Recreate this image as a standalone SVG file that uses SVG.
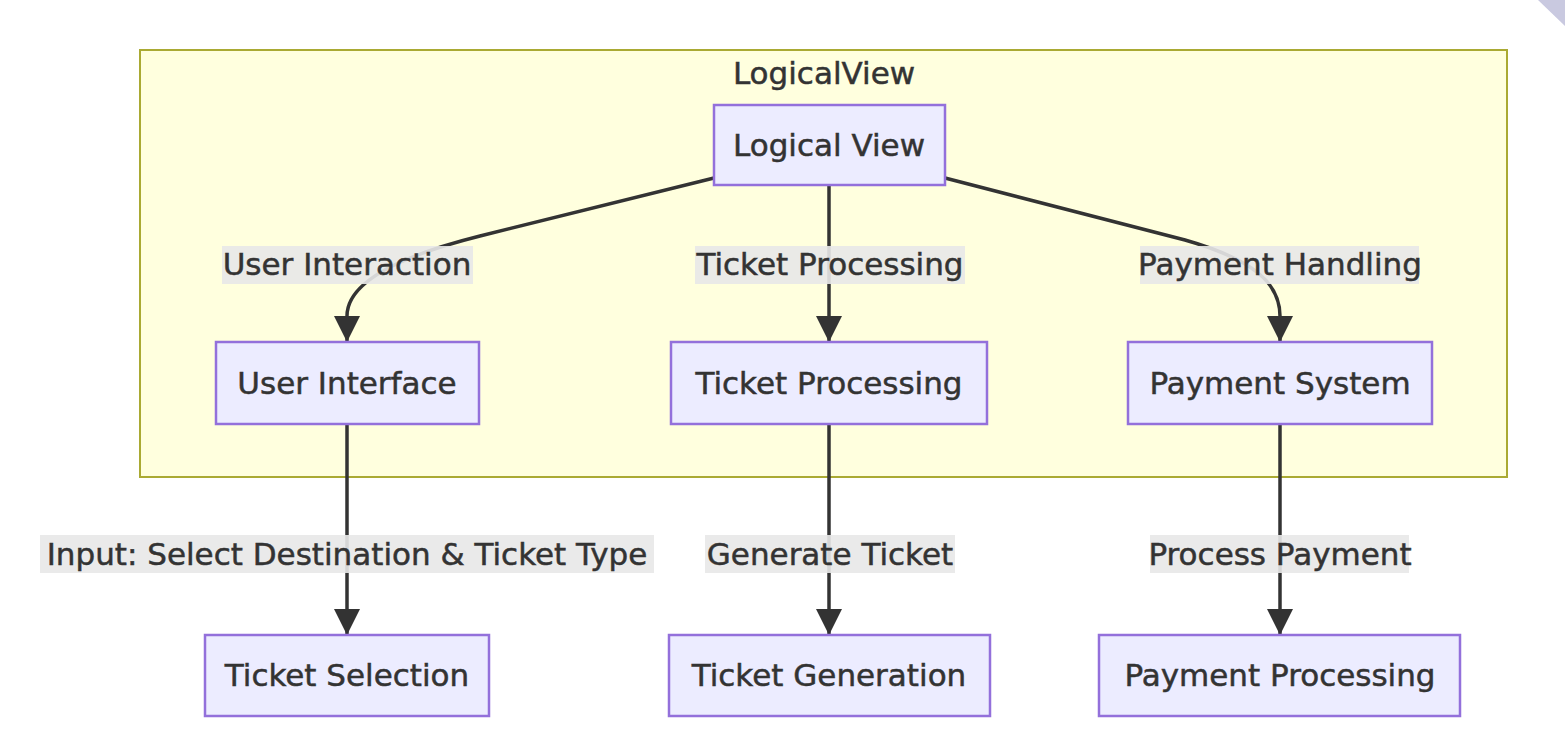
<svg xmlns="http://www.w3.org/2000/svg" width="1565" height="742" viewBox="0 0 1565 742">
<style>
.node rect{fill:#ececff;stroke:#9370db;stroke-width:2.5}
.t{font-family:"DejaVu Sans",sans-serif;font-size:31px;fill:#333;stroke:#333;stroke-width:0.5;text-anchor:middle;dominant-baseline:central}
.lbg{fill:#e8e8e8;opacity:0.9}
.e{fill:none;stroke:#333;stroke-width:3.5}
</style>
<defs>
<marker id="ah" markerUnits="userSpaceOnUse" markerWidth="28" markerHeight="28" refX="26" refY="13" orient="auto">
<path d="M0,0 L26,13 L0,26 Z" fill="#333"/>
</marker>
</defs>
<rect width="1565" height="742" fill="#ffffff"/>
<polygon points="1538,0 1565,0 1565,26" fill="#c9c9e0"/>
<g id="cluster-LogicalView">
<rect x="140" y="50" width="1367" height="427" fill="#ffffde" stroke="#aaaa33" stroke-width="2"/>
<text class="t" x="824" y="73">LogicalView</text>
</g>
<g id="connectors">
<path class="e" d="M714,178 L480,236 C400,256 347,282 347,316 L347,342" marker-end="url(#ah)"/>
<path class="e" d="M829,185 L829,342" marker-end="url(#ah)"/>
<path class="e" d="M945,178 L1185,240 C1255,260 1280,284 1280,316 L1280,342" marker-end="url(#ah)"/>
<path class="e" d="M347,424 L347,635" marker-end="url(#ah)"/>
<path class="e" d="M829,424 L829,635" marker-end="url(#ah)"/>
<path class="e" d="M1280,424 L1280,635" marker-end="url(#ah)"/>
<rect class="lbg" x="222" y="246" width="251" height="38"/>
<text class="t" x="347" y="264">User Interaction</text>
<rect class="lbg" x="695" y="246" width="270" height="38"/>
<text class="t" x="830" y="264">Ticket Processing</text>
<rect class="lbg" x="1140" y="246" width="279" height="38"/>
<text class="t" x="1280" y="264">Payment Handling</text>
<rect class="lbg" x="40" y="535" width="614" height="38"/>
<text class="t" x="347" y="554">Input: Select Destination &amp; Ticket Type</text>
<rect class="lbg" x="705" y="535" width="250" height="38"/>
<text class="t" x="830" y="554">Generate Ticket</text>
<rect class="lbg" x="1150" y="535" width="259" height="38"/>
<text class="t" x="1280" y="554">Process Payment</text>
</g>
<g id="node-LogicalView" class="node"><rect x="714" y="105" width="231" height="80"/><text class="t" x="829" y="145">Logical View</text></g>
<g id="node-UserInterface" class="node"><rect x="216" y="342" width="263" height="82"/><text class="t" x="347" y="383">User Interface</text></g>
<g id="node-TicketProcessing" class="node"><rect x="671" y="342" width="316" height="82"/><text class="t" x="829" y="383">Ticket Processing</text></g>
<g id="node-PaymentSystem" class="node"><rect x="1128" y="342" width="304" height="82"/><text class="t" x="1280" y="383">Payment System</text></g>
<g id="node-TicketSelection" class="node"><rect x="205" y="635" width="284" height="81"/><text class="t" x="347" y="675">Ticket Selection</text></g>
<g id="node-TicketGeneration" class="node"><rect x="669" y="635" width="321" height="81"/><text class="t" x="829" y="675">Ticket Generation</text></g>
<g id="node-PaymentProcessing" class="node"><rect x="1099" y="635" width="361" height="81"/><text class="t" x="1280" y="675">Payment Processing</text></g>
</svg>
